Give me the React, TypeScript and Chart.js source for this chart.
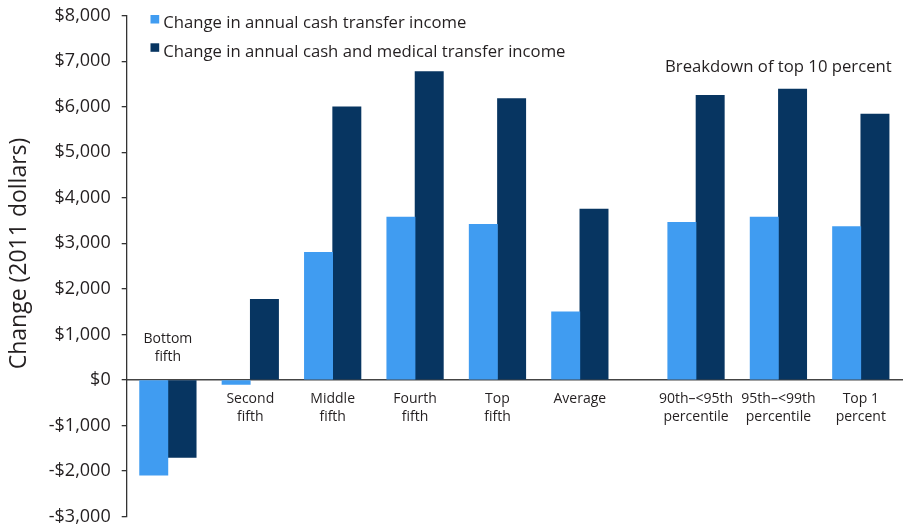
import React, { useEffect, useRef } from 'react';
import { Chart, registerables } from 'chart.js';

Chart.register(...registerables);

// ---- Data ----
const categories: string[][] = [
  ['Bottom', 'fifth'],
  ['Second', 'fifth'],
  ['Middle', 'fifth'],
  ['Fourth', 'fifth'],
  ['Top', 'fifth'],
  ['Average'],
  ['90th–<95th', 'percentile'],
  ['95th–<99th', 'percentile'],
  ['Top 1', 'percent'],
];
const cashTransfer = [-2090, -100, 2800, 3575, 3420, 1495, 3460, 3575, 3370];
const cashAndMedical = [-1700, 1770, 6000, 6775, 6180, 3750, 6250, 6390, 5840];
const seriesLabels = [
  'Change in annual cash transfer income',
  'Change in annual cash and medical transfer income',
];
const yTicks = [-3000, -2000, -1000, 0, 1000, 2000, 3000, 4000, 5000, 6000, 7000, 8000];
const yTitle = 'Change (2011 dollars)';
const groupNote = 'Breakdown of top 10 percent';

// ---- Layout / style constants ----
const mainGroupCount = 6;
const breakdownGap = 0.41;
const FONT = "'Open Sans', sans-serif";
const TEXT = '#231f20';
const LIGHT = '#409CF1';
const DARK = '#073561';
const AXIS = '#333333';

const fmtMoney = (v: number) =>
  (v < 0 ? '-' : '') + '$' + Math.abs(v).toLocaleString('en-US');

export default function App() {
  const ref = useRef<HTMLCanvasElement>(null);

  useEffect(() => {
    const canvas = ref.current;
    if (!canvas) return;
    const xPos = categories.map((_, i) => i + (i >= mainGroupCount ? breakdownGap : 0));
    const aboveAxis = categories.map((_, i) => cashTransfer[i] < 0 && cashAndMedical[i] < 0);

    const annotations = {
      id: 'annotations',
      afterDraw(chart: any) {
        const { ctx } = chart;
        const x = chart.scales.x;
        const y = chart.scales.y;
        ctx.save();
        ctx.fillStyle = TEXT;
        // category labels for groups whose bars are both negative: drawn above the zero line
        ctx.font = `14px ${FONT}`;
        ctx.textAlign = 'center';
        ctx.textBaseline = 'alphabetic';
        const zeroY = y.getPixelForValue(0);
        categories.forEach((lines, i) => {
          if (!aboveAxis[i]) return;
          const cx = x.getPixelForValue(xPos[i]);
          lines.forEach((line, j) => {
            ctx.fillText(line, cx, zeroY - 19 - (lines.length - 1 - j) * 18);
          });
        });
        // breakdown note
        ctx.font = `16.7px ${FONT}`;
        const bx =
          (x.getPixelForValue(xPos[mainGroupCount]) + x.getPixelForValue(xPos[xPos.length - 1])) / 2;
        ctx.fillText(groupNote, bx, 71.5);
        // legend
        ctx.textAlign = 'left';
        chart.data.datasets.forEach((ds: any, i: number) => {
          const top = 15 + i * 28.3;
          ctx.fillStyle = ds.backgroundColor;
          ctx.fillRect(150.5, top, 8.7, 8.5);
          ctx.fillStyle = TEXT;
          ctx.fillText(ds.label, 163.3, top + 13.3);
        });
        // y-axis title
        ctx.translate(19.5, 253.5);
        ctx.rotate(-Math.PI / 2);
        ctx.font = `23px ${FONT}`;
        ctx.textAlign = 'center';
        ctx.textBaseline = 'middle';
        ctx.fillText(yTitle, 0, 0);
        ctx.restore();
      },
    };

    const chart = new Chart(canvas, {
      type: 'bar',
      data: {
        datasets: [
          {
            label: seriesLabels[0],
            data: xPos.map((xv, i) => ({ x: xv, y: cashTransfer[i] })),
            backgroundColor: LIGHT,
            barThickness: 28.3,
          },
          {
            label: seriesLabels[1],
            data: xPos.map((xv, i) => ({ x: xv, y: cashAndMedical[i] })),
            backgroundColor: DARK,
            barThickness: 28.3,
          },
        ],
      },
      options: {
        animation: false,
        responsive: false,
        devicePixelRatio: 1,
        layout: { padding: { top: 15.7, right: 2, bottom: 9.5, left: 0 } },
        plugins: {
          legend: { display: false },
          tooltip: { enabled: false },
        },
        scales: {
          x: {
            type: 'linear',
            position: { y: 0 } as any,
            min: -0.5,
            max: xPos[xPos.length - 1] + 0.5,
            offset: false,
            z: 1,
            grid: { display: false, drawTicks: false },
            border: { display: true, color: '#444444', width: 1.6 },
            afterBuildTicks: (scale: any) => {
              scale.ticks = xPos.map((v) => ({ value: v }));
            },
            afterFit: (scale: any) => {
              scale.paddingLeft = 0;
              scale.paddingRight = 0;
            },
            ticks: {
              autoSkip: false,
              maxRotation: 0,
              minRotation: 0,
              padding: 10,
              color: TEXT,
              font: { family: FONT, size: 14, lineHeight: 1.3 },
              callback: (_v: any, i: number) => (aboveAxis[i] ? '' : categories[i]),
            },
          },
          y: {
            type: 'linear',
            position: 'left',
            min: yTicks[0],
            max: yTicks[yTicks.length - 1],
            afterFit: (scale: any) => {
              scale.width = 126.7;
              scale.paddingTop = 0;
              scale.paddingBottom = 0;
            },
            afterBuildTicks: (scale: any) => {
              scale.ticks = yTicks.map((v) => ({ value: v }));
            },
            grid: {
              display: true,
              drawOnChartArea: false,
              drawTicks: true,
              tickLength: 5,
              color: AXIS,
              lineWidth: 1.3,
            },
            border: { display: true, color: AXIS, width: 1.3 },
            ticks: {
              padding: 11,
              color: TEXT,
              font: { family: FONT, size: 18, lineHeight: 1.0 },
              callback: (v: any) => fmtMoney(Number(v)),
            },
          },
        },
      },
      plugins: [annotations],
    } as any);

    return () => chart.destroy();
  }, []);

  return (
    <div style={{ position: 'absolute', left: 0, top: 0, width: 904, height: 526, background: '#fff' }}>
      <canvas ref={ref} width={904} height={526} style={{ display: 'block', width: 904, height: 526 }} />
    </div>
  );
}
